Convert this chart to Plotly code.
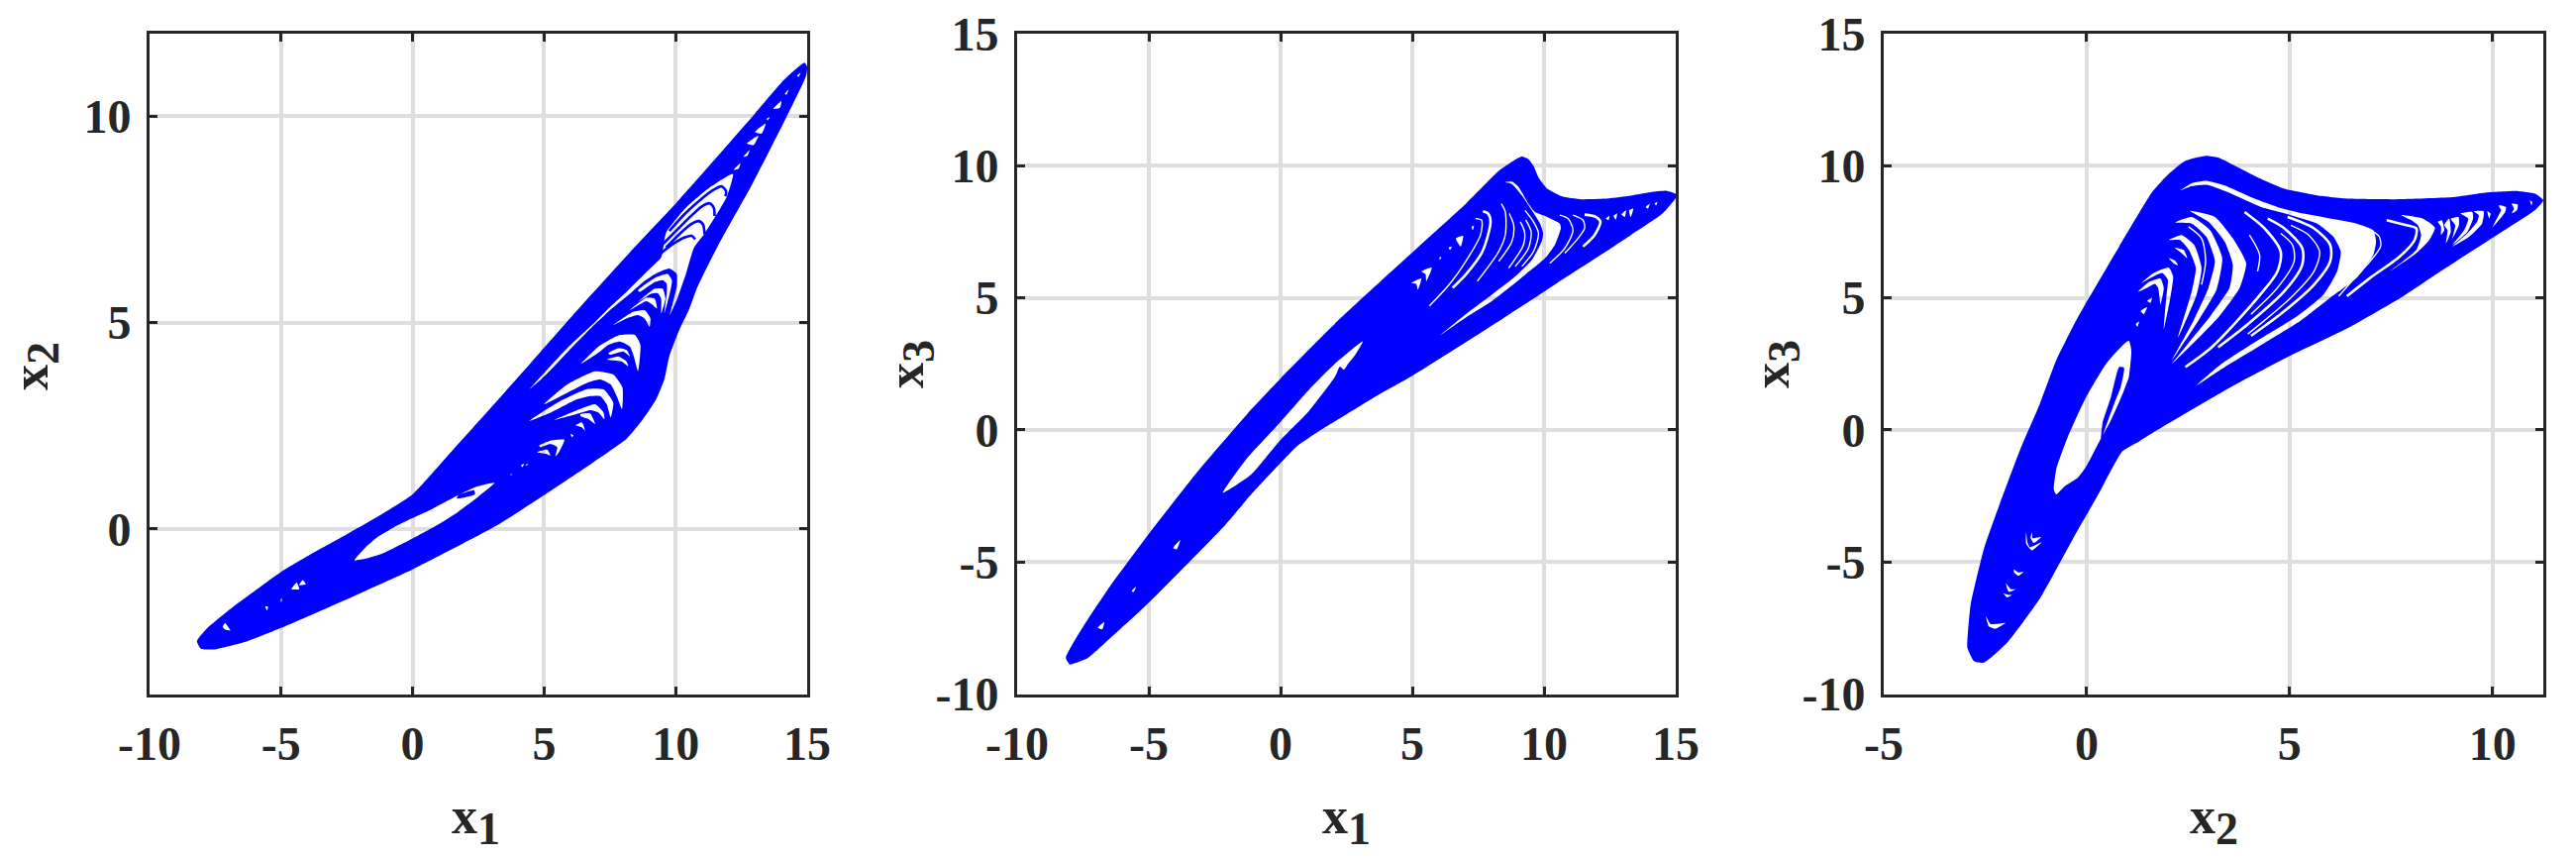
import plotly.graph_objects as go

BLUE = "#0000ff"
DARK = "#262626"
GRID = "#dedede"
FONT = "Liberation Serif"

# ---------- panel 1: x1 / x2 ----------
P1_OUTLINE = [(-8.2,-2.72),(-7.8,-2.4),(-7.05,-2.0),(-6.04,-1.52),(-5.0,-1.04),(-3.78,-0.58),(-2.53,-0.14),(-1.27,0.32),(0.0,0.84),
 (1.3,1.75),(2.74,2.77),(4.49,4.02),(6.12,5.2),(8.26,6.7),(10.0,7.88),(12.9,9.98),(14.15,10.9),(14.9,11.3),(15.0,11.2),(14.96,10.98),
 (14.15,9.9),(12.9,8.34),(11.64,6.9),(10.83,5.86),(10.5,5.3),(10.14,4.82),(9.76,4.18),(9.57,3.62),(9.26,3.14),(8.76,2.66),(8.13,2.18),(6.88,1.62),(5.0,0.82),(3.24,0.1),
 (0.0,-0.98),(-2.28,-1.64),(-5.0,-2.4),(-6.29,-2.72),(-7.55,-2.92),(-8.05,-2.9)]
P1_HOLES = [
 [(-2.21,-0.76),(-1.78,-0.44),(-1.34,-0.2),(-0.71,0.04),(-0.02,0.26),(0.73,0.48),(1.61,0.78),(2.4,1.02),(3.12,1.12),(2.49,0.78),(1.74,0.42),(0.98,0.11),(-0.02,-0.24),(-1.15,-0.6),(-1.78,-0.72)],
 [(12.18,8.6),(11.27,8.26),(10.39,7.78),(9.64,7.18),(9.45,6.58),(9.01,6.3),(8.57,6.02),(8.13,5.74),(7.51,5.38),(6.88,4.98),(5.88,4.38),(5.0,3.78),(4.44,3.38),(5.03,3.71),(5.94,4.32),(6.9,4.94),(7.57,5.34),(8.26,5.7),(8.76,5.98),(9.26,6.19),(9.76,6.31),(10.04,6.18),(10.04,5.86),(9.95,5.62),(9.76,5.14),(9.51,4.66),(9.36,4.4),(9.64,4.98),(10.04,5.54),(10.39,6.18),(10.7,6.82),(11.08,7.14),(11.52,7.58),(11.95,8.06)],
 [(12.21,8.7),(12.46,8.86),(12.39,8.73)],[(12.58,9.02),(12.81,9.18),(12.74,9.05)],[(12.71,9.34),(13.15,9.53),(12.96,9.3)],[(13.02,9.62),(13.42,9.82),(13.27,9.58)],
 [(13.46,9.94),(13.58,9.98),(13.5,9.9)],[(13.71,10.18),(14.02,10.37),(13.96,10.2)],[(14.15,10.54),(14.3,10.65),(14.21,10.52)],[(14.62,10.98),(14.75,11.05),(14.67,10.95)],
 [(8.57,5.78),(9.26,6.1),(9.7,6.18),(9.86,6.02),(9.76,5.66),(9.57,5.22),(9.66,5.7),(9.66,5.94),(9.51,6.03),(9.2,5.98),(8.63,5.74)],
 [(8.57,5.5),(9.2,5.82),(9.51,5.82),(9.61,5.58),(9.45,5.22),(9.45,5.58),(9.32,5.71),(9.07,5.7)],
 [(8.26,5.3),(8.88,5.6),(9.2,5.58),(9.29,5.34),(9.07,5.46),(8.88,5.52)],
 [(7.63,4.94),(8.38,5.26),(8.82,5.3),(9.04,5.1),(9.01,4.9),(8.82,5.1),(8.57,5.18),(8.13,5.1)],
 [(6.4,4.0),(7.07,4.42),(7.88,4.7),(8.45,4.7),(8.66,4.46),(8.57,3.82),(8.41,4.18),(8.26,4.42),(7.88,4.54),(7.44,4.46),(7.13,4.3)],
 [(7.44,4.26),(7.82,4.38),(8.13,4.34),(8.26,4.18),(8.01,4.3),(7.51,4.22)],
 [(7.38,4.1),(7.82,4.18),(8.13,4.06),(8.2,3.94),(7.94,4.06)],
 [(5.0,3.02),(5.88,3.5),(6.94,3.82),(7.63,3.74),(7.98,3.42),(7.96,2.9),(7.76,3.22),(7.53,3.5),(7.13,3.62),(6.63,3.54),(5.88,3.3)],
 [(4.44,2.62),(5.5,3.06),(6.63,3.39),(7.26,3.38),(7.63,3.06),(7.53,2.7),(7.38,3.02),(7.13,3.22),(6.75,3.22),(6.25,3.14),(5.25,2.82)],
 [(5.38,2.64),(6.38,2.91),(6.94,3.02),(7.26,2.82),(7.29,2.66),(7.07,2.82),(6.75,2.88),(6.32,2.8)],
 [(6.38,2.78),(6.75,2.8),(6.94,2.54),(6.69,2.66),(6.38,2.74)],
 [(6.19,2.51),(6.44,2.58),(6.56,2.38),(6.44,2.46),(6.25,2.5)],[(6.0,2.3),(6.12,2.27),(6.06,2.22)],
 [(4.81,2.02),(5.24,2.14),(5.77,2.16),(5.56,1.86),(5.43,1.76),(5.5,1.98),(5.24,2.06),(4.87,1.98)],
 [(4.74,1.86),(5.12,1.92),(5.24,1.78),(5.06,1.82)],
 [(4.12,1.54),(4.24,1.58),(4.18,1.5)],[(4.28,1.55),(4.39,1.59),(4.34,1.54)],[(3.71,1.31),(3.8,1.34),(3.74,1.3)],
 [(-7.22,-2.38),(-7.13,-2.28),(-7.05,-2.34),(-6.93,-2.46),(-7.12,-2.44)],
 [(-4.6,-1.46),(-4.41,-1.30),(-4.31,-1.46)],[(-4.31,-1.36),(-4.18,-1.24),(-4.06,-1.34)],
 [(-5.6,-1.88),(-5.5,-1.88),(-5.53,-1.98)],[(-5.02,-1.72),(-4.96,-1.68),(-4.99,-1.78)],
]
P1_ISLANDS = [[(1.74,0.82),(2.34,0.94),(2.37,0.84),(1.68,0.74)]]
P1_ARCHES = [
 [(11.89,8.06),(11.92,8.18),(11.74,8.3),(11.45,8.22),(10.95,7.98),(10.39,7.66),(9.76,7.22)],
 [(11.48,7.58),(11.45,7.78),(11.29,7.89),(11.01,7.82),(10.58,7.58),(10.01,7.22),(9.39,6.82)],
 [(11.1,7.14),(11.04,7.38),(10.86,7.46),(10.58,7.38),(10.14,7.14),(9.64,6.82)],
 [(10.74,7.02),(10.61,7.1),(10.33,7.06),(9.89,6.9),(9.32,6.62)],
]

# ---------- panel 2: x1 / x3 ----------
P2_OUTLINE = [(-8.15,-8.63),(-7.52,-7.49),(-6.48,-5.93),(-5.02,-3.96),(-3.15,-1.58),(-1.27,0.6),(0.0,1.95),(2.06,4.02),(5.0,6.72),(7.06,8.59),(8.31,9.83),(8.94,10.25),
 (9.16,10.35),(9.41,10.25),(9.6,10.0),(9.79,9.56),(10.1,9.15),(10.66,8.85),(11.42,8.73),(12.29,8.75),(13.17,8.85),(14.05,9.0),(14.67,9.05),(14.99,8.94),(15.0,8.78),
 (14.5,8.19),(13.3,7.38),(12.04,6.55),(10.79,5.75),(9.99,5.22),(7.41,3.56),(5.02,2.06),(3.81,1.38),(2.56,0.62),(1.44,-0.06),(0.62,-0.62),(0.0,-1.25),(-1.06,-2.38),(-2.12,-3.62),(-5.02,-6.56),(-6.48,-7.9),(-7.31,-8.63),(-7.83,-8.84),(-8.0,-8.88)]
P2_HOLES = [
 [(-2.19,-2.38),(-1.31,-1.12),(0.0,0.31),(1.06,1.5),(2.06,2.5),(3.12,3.35),(2.81,2.81),(2.56,2.5),(2.41,2.28),(2.25,2.4),(2.06,2.0),(1.06,0.69),(0.0,-0.38),(-1.12,-1.69)],
 [(8.51,9.38),(8.78,9.4),(9.04,9.19),(9.41,8.56),(9.66,8.25),(10.04,8.1),(10.6,7.81),(10.64,7.65),(10.41,7.0),(10.04,6.5),(9.29,5.88),(8.03,4.88),(7.03,4.25),(6.03,3.56),(7.03,4.38),(8.03,5.13),(8.91,5.81),(9.54,6.44),(9.91,7.12),(9.97,7.44),(9.85,7.81),(9.54,8.31),(9.16,8.88),(8.78,9.31)],
 [(12.35,8.0),(12.48,8.1),(12.45,7.94)],[(12.64,8.1),(12.77,8.19),(12.73,7.96)],[(12.94,8.15),(13.11,8.31),(13.07,8.06)],[(13.23,8.31),(13.39,8.38),(13.29,8.06)],
 [(13.86,8.44),(14.01,8.56),(13.95,8.38)],[(14.2,8.56),(14.3,8.63),(14.26,8.5)],
 [(7.25,7.69),(7.34,7.73),(7.3,7.56)],[(6.65,7.25),(6.93,7.35),(6.84,6.94)],[(6.38,6.9),(6.5,6.94),(6.43,6.81)],[(6.03,6.53),(6.1,6.55),(6.05,6.43)],
 [(5.34,6.0),(5.74,6.15),(5.53,5.63),(5.5,5.9)],[(4.96,5.56),(5.34,5.73),(5.21,5.31),(5.15,5.53)],
 [(-6.94,-7.49),(-6.69,-7.28),(-6.77,-7.55)],[(-4.08,-4.48),(-3.81,-4.17),(-3.94,-4.52)],[(-5.65,-6.1),(-5.48,-5.93),(-5.58,-6.14)],
]
P2_STREAKS_WIDE = [
 [(11.54,8.15),(11.98,8.06),(12.14,7.88),(11.92,7.38),(11.48,6.94)],
 [(7.68,8.28),(7.88,8.19),(7.97,7.88),(7.66,6.75),(7.03,5.88),(6.53,5.38)],
]
P2_STREAKS_THIN = [
 [(10.6,8.13),(10.91,8.0),(11.1,7.56),(10.79,6.88),(10.22,6.31)],
 [(11.1,8.13),(11.48,7.94),(11.54,7.63),(11.29,7.25),(10.79,6.69)],
 [(7.4,8.0),(7.63,7.94),(7.59,7.38),(7.03,6.38),(6.4,5.5),(5.65,4.69)],
 [(9.28,8.31),(9.6,7.88),(9.79,7.44),(9.6,6.75),(9.16,6.19)],
 [(9.31,7.94),(9.51,7.5),(9.41,6.88),(8.91,6.19)],
 [(9.1,7.88),(9.26,7.5),(9.22,7.0),(8.66,6.13)],
 [(8.68,8.19),(8.85,7.75),(8.78,7.13),(8.28,6.38)],
 [(8.38,8.56),(8.53,8.25),(8.53,7.38),(8.28,6.75),(7.47,5.63)],
]

# ---------- panel 3: x2 / x3 ----------
P3_OUTLINE = [(-2.53,-8.81),(-2.78,-8.75),(-2.94,-8.25),(-2.94,-8.0),(-2.86,-6.63),(-2.53,-4.5),(-2.13,-2.75),(-1.64,-0.75),(-1.15,1.0),(-0.75,2.63),(-0.22,4.25),(0.8,6.94),(1.21,8.0),(1.61,9.0),(2.02,9.69),(2.43,10.19),(2.94,10.38),
 (3.24,10.31),(3.65,10.0),(4.21,9.56),(4.87,9.13),(5.68,8.88),(6.49,8.75),(7.63,8.73),(9.01,8.81),(9.82,8.98),(10.64,9.04),(11.05,8.94),(11.25,8.69),(11.04,8.31),(10.23,7.5),(9.42,6.7),(8.52,5.8),(7.79,5.05),(6.49,3.9),(5.0,2.8),(3.56,1.63),(1.64,-0.1),(1.29,-0.44),(0.88,-0.81),(0.31,-2.38),(-0.34,-4.13),(-1.15,-6.38),(-1.96,-8.06)]
P3_HOLES = [
 [(1.04,3.38),(1.1,3.0),(1.04,2.0),(0.92,1.5),(0.8,1.06),(0.56,0.25),(0.31,-0.44),(-0.01,-1.38),(-0.22,-1.81),(-0.54,-2.13),(-0.75,-2.44),(-0.81,-2.25),(-0.75,-1.5),(-0.46,-0.25),(-0.01,1.25),(0.48,2.5),(0.88,3.19)],
 [(-1.49,-3.88),(-1.46,-4.25),(-1.4,-4.44),(-1.11,-4.25),(-1.35,-4.56),(-1.49,-4.31)],
 [(-1.35,-3.88),(-1.33,-4.1),(-1.13,-4.06),(-1.3,-4.28),(-1.38,-4.1)],
 [(-1.79,-5.28),(-1.68,-5.4),(-1.56,-5.38),(-1.68,-5.53),(-1.79,-5.4)],
 [(-1.99,-5.81),(-1.87,-6.03),(-1.74,-6.03),(-1.92,-6.13)],
 [(-2.05,-6.19),(-1.92,-6.25),(-1.84,-6.25),(-1.96,-6.34)],
 [(-2.48,-7.06),(-2.37,-7.35),(-2.0,-7.31),(-2.25,-7.53),(-2.41,-7.44)],
 [(2.3,9.06),(2.59,9.34),(2.95,9.43),(3.4,9.25),(4.05,8.81),(4.7,8.44),(5.35,8.19),(6.0,8.0),(6.65,7.81),(7.06,7.56),(7.13,7.13),(7.06,6.63),(6.65,5.75),(6.0,5.0),(5.27,4.13),(4.21,3.13),(3.4,2.38),(2.71,1.69),(3.32,2.5),(4.13,3.31),(5.19,4.31),(5.84,5.13),(6.17,6.0),(6.26,6.75),(6.08,7.31),(5.68,7.81),(5.03,8.13),(4.3,8.44),(3.48,9.0),(2.95,9.28),(2.59,9.23)],
 [(2.55,8.29),(3.16,8.06),(3.6,7.25),(3.93,6.31),(3.77,5.38),(3.24,4.25),(2.1,2.5),(3.08,4.38),(3.52,5.38),(3.6,6.25),(3.4,7.13),(3.0,7.88)],
 [(2.18,7.85),(2.59,8.06),(3.04,7.56),(3.34,6.5),(3.2,5.31),(2.75,4.13),(2.1,2.63),(2.63,4.13),(3.0,5.38),(3.16,6.38),(2.95,7.31),(2.59,7.81)],
 [(2.02,7.19),(2.34,7.38),(2.65,7.0),(2.83,6.13),(2.71,5.13),(2.25,3.5),(2.59,5.25),(2.69,6.13),(2.52,6.81),(2.3,7.19)],
 [(1.35,5.56),(1.65,5.94),(2.02,6.15),(2.13,5.81),(2.06,5.0),(1.9,3.81),(1.96,5.0),(2.0,5.69),(1.86,5.94),(1.61,5.78)],
 [(1.27,5.23),(1.53,5.59),(1.82,5.73),(1.9,5.38),(1.82,4.75),(1.76,5.38),(1.68,5.53),(1.49,5.38)],
 [(2.17,6.9),(2.39,6.81),(2.48,6.5),(2.34,6.69)],[(2.02,6.5),(2.18,6.4),(2.25,6.23),(2.14,6.31)],
 [(1.33,4.5),(1.49,4.65),(1.41,4.38)],[(1.49,4.88),(1.61,5.0),(1.57,4.81)],[(1.21,4.0),(1.29,4.1),(1.25,3.9)],
 [(7.75,8.13),(8.28,8.0),(8.58,7.65),(8.44,7.19),(8.12,6.69),(7.47,6.0),(8.12,6.81),(8.24,7.38),(8.16,7.75),(8.0,7.94)],
 [(8.65,7.88),(8.75,7.94),(8.81,7.56),(8.73,7.38),(8.73,7.69)],
 [(8.81,7.75),(8.93,8.0),(8.97,7.5),(8.85,7.06),(8.89,7.56)],
 [(8.97,8.0),(9.16,8.06),(9.17,7.75),(9.01,7.25),(9.08,7.75)],
 [(9.21,8.19),(9.5,8.25),(9.52,8.0),(9.38,7.5),(9.01,7.0),(9.3,7.56),(9.4,8.0)],
 [(9.54,8.28),(9.78,8.28),(9.74,7.81),(9.42,7.31),(9.01,6.94),(9.38,7.44),(9.62,7.88),(9.66,8.13)],
 [(9.87,8.28),(9.95,8.19),(9.92,8.0),(9.89,8.13)],
 [(10.15,8.5),(10.33,8.44),(10.31,8.25),(10.19,8.0),(9.99,7.65),(10.15,8.13),(10.21,8.31)],
 [(10.47,8.56),(10.62,8.53),(10.6,8.31),(10.47,8.19),(10.53,8.38)],
 [(10.92,8.69),(10.98,8.63),(10.96,8.5)],
]
P3_ISLANDS = [[(0.8,2.38),(0.92,2.35),(0.84,1.63),(0.68,1.0),(0.43,-0.06),(0.35,-0.4),(0.39,0.25),(0.6,1.25)]]
P3_STREAKS_WIDE = [
 [(3.89,8.25),(4.38,7.63),(4.78,6.75),(4.7,6.0),(4.21,5.0),(3.08,3.13),(2.43,2.38)],
 [(4.46,8.0),(4.87,7.63),(5.31,6.88),(5.31,6.25),(4.87,5.25),(3.97,4.0),(3.24,3.13)],
 [(4.95,8.06),(5.6,7.63),(6.0,7.0),(6.0,6.38),(5.6,5.5),(4.87,4.5),(4.05,3.56)],
 [(7.39,7.94),(7.87,7.75),(8.12,7.63),(8.08,7.19),(7.71,6.56),(6.98,5.75),(6.41,5.06)],
]
P3_STREAKS_THIN = [
 [(5.03,7.75),(5.47,7.38),(5.74,6.75),(5.6,6.0),(5.03,5.0),(3.97,3.63)],
 [(4.78,7.44),(5.07,7.0),(5.11,6.38),(4.7,5.38),(4.05,4.38)],
 [(2.51,7.69),(2.83,7.25),(2.93,6.38),(2.83,5.5)],
 [(4.01,7.38),(4.26,6.63),(4.21,6.0)],
 [(7.06,7.5),(7.21,7.31),(7.24,6.94),(6.98,6.38),(6.49,5.56),(6.21,5.06)],
]

X_TICKS_A = [-10, -5, 0, 5, 10, 15]
X_TICKS_B = [-5, 0, 5, 10]
Y_TICKS_A = [0, 5, 10]
Y_TICKS_B = [-10, -5, 0, 5, 10, 15]
X_TITLES = [("1", 481), ("1", 1359), ("2", 2235)]
Y_TITLES = [("2", 35, 370), ("3", 919, 368), ("3", 1793, 368)]

W, H = 2601, 866
PAD = 8  # the page's own margin round the plot
TOP, BOTTOM = 34 - PAD, 700.5 - PAD
X_TITLE_Y = 828


def signed_area(poly):
    return sum(poly[i][0] * poly[(i + 1) % len(poly)][1] - poly[(i + 1) % len(poly)][0] * poly[i][1] for i in range(len(poly)))


def oriented(poly, positive):
    return list(poly) if (signed_area(poly) > 0) == positive else list(reversed(poly))


def region(outline, holes=(), islands=()):
    xs, ys = [], []
    rings = [oriented(outline, True)] + [oriented(h, False) for h in holes] + [oriented(i, True) for i in islands]
    for ring in rings:
        xs += [p[0] for p in ring] + [ring[0][0], None]
        ys += [p[1] for p in ring] + [ring[0][1], None]
    return xs[:-1], ys[:-1]


def strokes(paths):
    xs, ys = [], []
    for path in paths:
        xs += [p[0] for p in path] + [None]
        ys += [p[1] for p in path] + [None]
    return xs, ys


fig = go.Figure()


def add_panel(i, outline, holes, islands=(), arches=(), wide=(), thin=()):
    ax = dict(xaxis=f"x{i}", yaxis=f"y{i}")
    x, y = region(outline, holes, islands)
    fig.add_trace(go.Scatter(x=x, y=y, mode="lines", fill="toself", fillcolor=BLUE,
                             line=dict(width=0, color=BLUE, shape="spline", smoothing=0.5), showlegend=False, hoverinfo="skip", **ax))
    for paths, color, width in ((arches, BLUE, 2.6), (wide, "white", 2.6), (thin, "white", 1.4)):
        if paths:
            x, y = strokes(paths)
            fig.add_trace(go.Scatter(x=x, y=y, mode="lines", line=dict(color=color, width=width, shape="spline", smoothing=0.8), showlegend=False, hoverinfo="skip", **ax))


add_panel(1, P1_OUTLINE, P1_HOLES, P1_ISLANDS, arches=P1_ARCHES)
add_panel(2, P2_OUTLINE, P2_HOLES, wide=P2_STREAKS_WIDE, thin=P2_STREAKS_THIN)
add_panel(3, P3_OUTLINE, P3_HOLES, P3_ISLANDS, wide=P3_STREAKS_WIDE, thin=P3_STREAKS_THIN)


def label(sub):
    return f'x<sub><span style="font-size:46px">{sub}</span></sub>'


def axis(rng, ticks, domain):
    return dict(range=rng, domain=domain, automargin=False, tickmode="array", tickvals=ticks, ticktext=[str(t) for t in ticks],
                ticks="inside", ticklen=8, tickwidth=3, tickcolor=DARK, showline=True, linewidth=3, linecolor=DARK, mirror="allticks",
                showgrid=True, gridcolor=GRID, gridwidth=3.5, zeroline=False, ticklabelstandoff=6, ticklabeloverflow="allow",
                tickfont=dict(family=FONT, size=48, color=DARK, weight="bold"))


def xdom(left, right):
    return [(left - PAD) / W, (right - PAD) / W]


def title_note(sub, px, py, angle):
    return dict(text=label(sub), xref="paper", yref="paper", x=(px - PAD) / W, y=1 - (py - PAD) / H, xanchor="center", yanchor="middle",
                showarrow=False, textangle=angle, font=dict(family=FONT, size=52, color=DARK, weight="bold"))


ydom = [1 - BOTTOM / H, 1 - TOP / H]
notes = [title_note(s, px, X_TITLE_Y, 0) for s, px in X_TITLES] + [title_note(s, px, py, -90) for s, px, py in Y_TITLES]

fig.update_layout(
    width=W, height=H, margin=dict(l=0, r=0, t=0, b=0, autoexpand=False), paper_bgcolor="white", plot_bgcolor="white", annotations=notes,
    xaxis=axis([-10, 15], X_TICKS_A, xdom(151, 815)),
    yaxis=axis([-4, 12], Y_TICKS_A, ydom),
    xaxis2=axis([-10, 15], X_TICKS_A, xdom(1027, 1692)),
    yaxis2=axis([-10, 15], Y_TICKS_B, ydom),
    xaxis3=axis([-5, 11.25], X_TICKS_B, xdom(1902, 2568)),
    yaxis3=axis([-10, 15], Y_TICKS_B, ydom),
)
for i in (1, 2, 3):
    fig.update_layout({("xaxis" if i == 1 else f"xaxis{i}"): dict(anchor="y" if i == 1 else f"y{i}"),
                       ("yaxis" if i == 1 else f"yaxis{i}"): dict(anchor="x" if i == 1 else f"x{i}")})

fig.write_html("out.html")
